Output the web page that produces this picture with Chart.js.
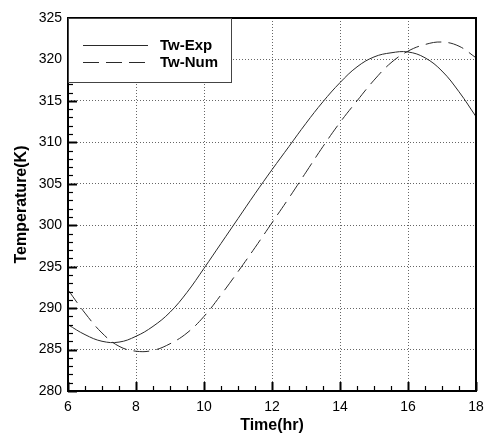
<!DOCTYPE html>
<html>
<head>
<meta charset="utf-8">
<script src="https://cdn.jsdelivr.net/npm/chart.js@4"></script>
<style>
  html, body { margin: 0; padding: 0; background: #fff; }
  #wrap { width: 485px; height: 435px; }
</style>
</head>
<body>
<div id="wrap"><canvas id="tempChart" width="485" height="435"></canvas></div>
<script>
// data
const times = [6, 6.5, 7, 7.5, 8, 8.5, 9, 9.5, 10, 10.5, 11, 11.5, 12, 12.5, 13, 13.5, 14, 14.5, 15, 15.5, 16, 16.5, 17, 17.5, 18];
const twExp = [288.0, 286.8, 286.0, 285.9, 286.6, 287.8, 289.5, 291.9, 294.8, 297.8, 300.8, 303.8, 306.7, 309.5, 312.3, 314.9, 317.2, 319.1, 320.3, 320.8, 320.9, 320.2, 318.6, 316.1, 313.1];
const twNum = [292.2, 289.4, 287.0, 285.4, 284.8, 284.9, 285.7, 287.0, 289.0, 291.6, 294.4, 297.3, 300.3, 303.3, 306.4, 309.5, 312.4, 315.0, 317.5, 319.6, 321.0, 321.8, 322.1, 321.6, 320.2];
const seriesNames = ["Tw-Exp", "Tw-Num"];
const xTickValues = [6, 8, 10, 12, 14, 16, 18];
const yTickValues = [280, 285, 290, 295, 300, 305, 310, 315, 320, 325];

const lineColor = "#2a2a2a";
const dashPattern = [16, 7];

const ctx = document.getElementById("tempChart").getContext("2d");

// frame + inward tick marks + legend box, drawn on top of the chart
const framePlugin = {
  id: "frame",
  afterDraw(chart) {
    const { ctx, chartArea: a, scales: { x, y } } = chart;
    ctx.save();
    ctx.strokeStyle = "#000";
    // minor + major ticks on bottom axis
    for (let v = 6; v <= 18.001; v += 0.5) {
      const px = Math.round(x.getPixelForValue(v)) + 0.5;
      const major = Math.abs(v % 2) < 0.01;
      ctx.lineWidth = major ? 2 : 1.2;
      ctx.beginPath();
      ctx.moveTo(px, a.bottom);
      ctx.lineTo(px, a.bottom - (major ? 9 : 5));
      ctx.stroke();
    }
    // ticks on left axis
    for (let v = 280; v <= 325.001; v += 1) {
      const py = Math.round(y.getPixelForValue(v)) + 0.5;
      const major = v % 5 === 0;
      ctx.lineWidth = major ? 2 : 1.2;
      ctx.beginPath();
      ctx.moveTo(a.left, py);
      ctx.lineTo(a.left + (major ? 9 : 5), py);
      ctx.stroke();
    }
    // frame
    ctx.lineWidth = 2;
    ctx.strokeRect(a.left, a.top, a.right - a.left, a.bottom - a.top);

    // legend box in the top-left corner
    const bx = a.left, by = a.top, bw = 163, bh = 64;
    ctx.fillStyle = "#fff";
    ctx.fillRect(bx + 1, by + 1, bw - 1, bh - 1);
    ctx.lineWidth = 1;
    ctx.strokeStyle = "#444";
    ctx.strokeRect(bx + 0.5, by + 0.5, bw, bh);
    ctx.strokeStyle = lineColor;
    ctx.font = "bold 15px 'Liberation Sans', Arial, sans-serif";
    ctx.fillStyle = "#000";
    ctx.textBaseline = "middle";
    seriesNames.forEach((name, i) => {
      const ly = by + 27.5 + i * 17;
      ctx.setLineDash(i === 0 ? [] : dashPattern);
      ctx.beginPath();
      ctx.moveTo(bx + 15, ly);
      ctx.lineTo(bx + 80, ly);
      ctx.stroke();
      ctx.setLineDash([]);
      ctx.fillText(name, bx + 92, ly);
    });
    ctx.restore();
  }
};

new Chart(ctx, {
  type: "line",
  data: {
    labels: times,
    datasets: [
      {
        label: seriesNames[0],
        data: times.map((t, i) => ({ x: t, y: twExp[i] })),
        borderColor: lineColor,
        borderWidth: 1,
        pointRadius: 0,
        tension: 0.4,
        fill: false
      },
      {
        label: seriesNames[1],
        data: times.map((t, i) => ({ x: t, y: twNum[i] })),
        borderColor: lineColor,
        borderWidth: 1,
        borderDash: dashPattern,
        pointRadius: 0,
        tension: 0.4,
        fill: false
      }
    ]
  },
  options: {
    responsive: false,
    animation: false,
    layout: { padding: { top: 18, right: 9, left: 0, bottom: 0 } },
    plugins: { legend: { display: false }, tooltip: { enabled: false } },
    scales: {
      x: {
        type: "linear",
        min: 6,
        max: 18,
        afterBuildTicks: (s) => { s.ticks = xTickValues.map(v => ({ value: v })); },
        afterFit: (s) => { s.height = 44; s.paddingLeft = 0; s.paddingRight = 0; },
        grid: { color: "#666", lineWidth: 1, drawTicks: false },
        border: { display: false, dash: [1, 2] },
        ticks: {
          padding: 8,
          color: "#000",
          font: { family: "'Liberation Sans', Arial, sans-serif", size: 14 }
        },
        title: {
          display: true,
          text: "Time(hr)",
          color: "#000",
          padding: { top: 0, bottom: 0 },
          font: { family: "'Liberation Sans', Arial, sans-serif", size: 16, weight: "bold" }
        }
      },
      y: {
        min: 280,
        max: 325,
        afterBuildTicks: (s) => { s.ticks = yTickValues.map(v => ({ value: v })); },
        afterFit: (s) => { s.width = 68; s.paddingTop = 0; s.paddingBottom = 0; },
        grid: { color: "#666", lineWidth: 1, drawTicks: false },
        border: { display: false, dash: [1, 2] },
        ticks: {
          padding: 6,
          color: "#000",
          font: { family: "'Liberation Sans', Arial, sans-serif", size: 14 }
        },
        title: {
          display: true,
          text: "Temperature(K)",
          color: "#000",
          padding: { top: 12, bottom: 0 },
          font: { family: "'Liberation Sans', Arial, sans-serif", size: 16, weight: "bold" }
        }
      }
    }
  },
  plugins: [framePlugin]
});
</script>
</body>
</html>
